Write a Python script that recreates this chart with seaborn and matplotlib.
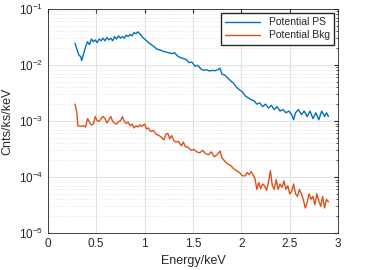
"""
Widmo: potencjalne źródło vs tło.
"""

import matplotlib.pyplot as plt
import pandas as pd
import seaborn as sns

ps_energy = [0.28, 0.30, 0.32, 0.34, 0.35, 0.37, 0.39, 0.41, 0.43, 0.45, 0.47, 0.49, 0.51, 0.53, 0.55,
             0.57, 0.59, 0.61, 0.63, 0.65, 0.67, 0.69, 0.71, 0.73, 0.75, 0.77, 0.79, 0.81, 0.83, 0.85,
             0.87, 0.89, 0.91, 0.93, 0.95, 0.98,
             1.01, 1.04, 1.07, 1.10, 1.13, 1.16, 1.19, 1.22, 1.25, 1.28, 1.31, 1.34, 1.37, 1.40,
             1.43, 1.46, 1.49, 1.52, 1.55, 1.58, 1.61, 1.64, 1.67, 1.70, 1.73, 1.76, 1.78, 1.80,
             1.83, 1.86, 1.89, 1.92, 1.95, 1.98, 2.01, 2.04, 2.07, 2.10, 2.13, 2.16, 2.19, 2.22,
             2.25, 2.28, 2.31, 2.34, 2.37, 2.40, 2.43, 2.46, 2.49, 2.52, 2.54, 2.56, 2.59, 2.62,
             2.65, 2.68, 2.71, 2.74, 2.77, 2.80, 2.83, 2.86, 2.88, 2.90]
ps_rate = [0.0245, 0.019, 0.015, 0.014, 0.012, 0.016, 0.021, 0.026, 0.023, 0.029, 0.026, 0.028, 0.025, 0.029, 0.027,
           0.030, 0.027, 0.031, 0.028, 0.030, 0.027, 0.032, 0.029, 0.033, 0.030, 0.032, 0.030, 0.034, 0.032, 0.035,
           0.033, 0.038, 0.036, 0.039, 0.036, 0.031,
           0.028, 0.025, 0.023, 0.021, 0.019, 0.0185, 0.0175, 0.017, 0.0165, 0.016, 0.0165, 0.0145, 0.0135, 0.013,
           0.0125, 0.011, 0.0112, 0.0095, 0.0098, 0.0085, 0.008, 0.0082, 0.0078, 0.008, 0.0079, 0.0083, 0.0087, 0.0068,
           0.0066, 0.0058, 0.0052, 0.0047, 0.0040, 0.0036, 0.0033, 0.0028, 0.0026, 0.0024, 0.0023, 0.0020, 0.0021, 0.0018,
           0.0020, 0.0017, 0.0019, 0.0016, 0.0018, 0.0015, 0.0016, 0.0014, 0.0015, 0.0013, 0.00105, 0.0014, 0.0016, 0.0013,
           0.0015, 0.0012, 0.0015, 0.0011, 0.0014, 0.00105, 0.0015, 0.0012, 0.0014, 0.0012]

bkg_energy = [0.28, 0.30, 0.31, 0.34, 0.37, 0.39, 0.41, 0.43, 0.45, 0.47, 0.49, 0.51, 0.53, 0.55,
              0.57, 0.59, 0.61, 0.63, 0.65, 0.67, 0.69, 0.71, 0.73, 0.75, 0.77, 0.79, 0.81, 0.83,
              0.85, 0.87, 0.89, 0.91, 0.93, 0.95, 0.97, 1.00, 1.02, 1.04, 1.06, 1.09, 1.12, 1.15,
              1.18, 1.20, 1.22, 1.24, 1.26, 1.28, 1.30, 1.32, 1.35, 1.38, 1.40, 1.42, 1.45, 1.48,
              1.51, 1.54, 1.57, 1.60, 1.63, 1.66, 1.69, 1.72, 1.75, 1.78, 1.80, 1.83, 1.86, 1.89,
              1.92, 1.95, 1.98, 2.01, 2.04, 2.06, 2.08, 2.10, 2.12, 2.14, 2.16, 2.18, 2.20, 2.22,
              2.24, 2.26, 2.28, 2.30, 2.32, 2.34, 2.36, 2.38, 2.40, 2.42, 2.44, 2.46, 2.48, 2.50,
              2.52, 2.54, 2.56, 2.58, 2.60, 2.62, 2.64, 2.66, 2.68, 2.70, 2.72, 2.74, 2.76, 2.78,
              2.80, 2.82, 2.84, 2.86, 2.88, 2.90]
bkg_rate = [0.0020, 0.0014, 0.00082, 0.00080, 0.00082, 0.00078, 0.0011, 0.00095, 0.00085, 0.00088, 0.0012, 0.0010, 0.00098, 0.0011,
            0.0012, 0.0011, 0.00092, 0.00105, 0.0012, 0.00098, 0.00092, 0.00088, 0.00098, 0.0010, 0.0012, 0.00098, 0.0009, 0.00095,
            0.00082, 0.00088, 0.00075, 0.00082, 0.00078, 0.00085, 0.0008, 0.00088, 0.00072, 0.00075, 0.00065, 0.00068, 0.00058, 0.00055,
            0.0005, 0.00046, 0.00058, 0.0006, 0.00048, 0.00055, 0.00045, 0.00042, 0.00043, 0.00036, 0.00042, 0.00035, 0.00034, 0.0003,
            0.00031, 0.00028, 0.00027, 0.0003, 0.00026, 0.00025, 0.00028, 0.00023, 0.00025, 0.00029, 0.00022, 0.00019, 0.00017, 0.00016,
            0.00014, 0.00013, 0.00012, 0.000105, 0.000105, 0.00012, 0.00011, 0.000125, 0.00011, 0.000095, 0.00006, 0.00008, 0.000062, 0.000075,
            0.00007, 0.000058, 0.00008, 0.00013, 0.00007, 0.00006, 0.00009, 0.00006, 0.000075, 0.000065, 0.000085, 0.00006, 0.00007, 0.00005,
            0.000055, 0.000075, 0.00005, 0.000045, 0.00006, 0.00005, 0.00004, 0.000028, 0.000035, 0.00005, 0.00004, 0.000045, 0.000032, 0.00005,
            0.000038, 0.00003, 0.000045, 0.000028, 0.00004, 0.000036]

labels = ['Potential PS', 'Potential Bkg']
colors = ['#0072BD', '#D95319']

df = pd.concat([
    pd.DataFrame({'Energy': ps_energy, 'Rate': ps_rate, 'Source': labels[0]}),
    pd.DataFrame({'Energy': bkg_energy, 'Rate': bkg_rate, 'Source': labels[1]}),
])

sns.set_style('white')
plt.rcParams['font.family'] = ['Liberation Sans', 'DejaVu Sans']

fig = plt.figure(figsize=(3.74, 2.70), dpi=100)
ax = fig.add_axes([0.128, 0.137, 0.776, 0.830])

sns.lineplot(data=df, x='Energy', y='Rate', hue='Source', palette=colors,
             linewidth=1.0, ax=ax, estimator=None, sort=False)

ax.set_yscale('log')
ax.set_xlim(0, 3)
ax.set_ylim(1e-5, 1e-1)
ax.set_xticks([0, 0.5, 1, 1.5, 2, 2.5, 3])
ax.set_xticklabels(['0', '0.5', '1', '1.5', '2', '2.5', '3'])

# Siatka w stylu MATLAB
ax.grid(True, which='major', color='#dcdcdc', linewidth=0.6)
ax.grid(True, which='minor', color='#dadada', linewidth=0.5, linestyle=':')
ax.set_axisbelow(True)

ax.tick_params(which='both', direction='in', top=True, right=True, labelsize=8.5,
               colors='#262626', length=3)
ax.tick_params(which='minor', length=1.5)
for s in ax.spines.values():
    s.set_color('#262626')
    s.set_linewidth(0.6)

ax.set_xlabel('Energy/keV', fontsize=9, color='#262626')
ax.set_ylabel('Cnts/ks/keV', fontsize=9, color='#262626')

ax.legend(title=None, loc='upper right', fontsize=7.5, frameon=True, fancybox=False,
          edgecolor='#262626', framealpha=1, borderaxespad=0.4, handlelength=3.4,
          labelspacing=0.3, borderpad=0.4)

fig.savefig('out.png', dpi=100)
